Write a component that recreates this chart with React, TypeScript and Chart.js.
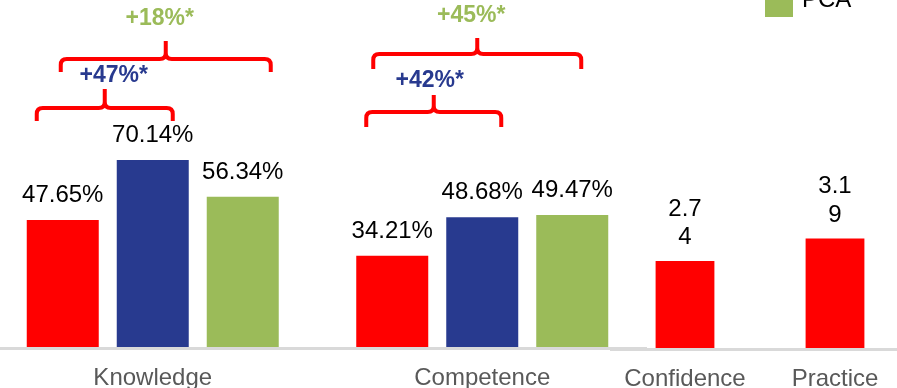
import React, { useEffect, useRef } from "react";
import { Chart, registerables } from "chart.js";

Chart.register(...registerables);

const FONT = "'Liberation Sans', Arial, sans-serif";

// ---- data ----
const seriesNames = ["Baseline", "Post-training", "PCA"];
const seriesColors = ["#FF0000", "#283A8F", "#9BBB59"];

const pctCategories = ["Knowledge", "Competence"];
const baselinePct = [47.65, 34.21];
const postPct = [70.14, 48.68];
const pcaPct = [56.34, 49.47];

const scoreCategories = ["Confidence", "Practice"];
const baselineScore = [2.74, 3.19];

const pctRange = [0, 75];
const scoreRange = [1, 5];

// comparisons drawn as brackets: category index, from-series, to-series
const comparisons = [
  { category: 0, from: 0, to: 1 },
  { category: 0, from: 0, to: 2 },
  { category: 1, from: 0, to: 1 },
  { category: 1, from: 0, to: 2 },
];

// annotation styling (positions of the hand-drawn brackets)
const bracketStyle = [
  { dx1: -26, dx2: 20, lineY: 108, drop: 13, rise: 19, textDx: 9, textY: 82 },
  { dx1: -2, dx2: 28, lineY: 59, drop: 13, rise: 18, textDx: -6, textY: 25 },
  { dx1: -26, dx2: 19, lineY: 112, drop: 15, rise: 17, textDx: -4, textY: 87 },
  { dx1: -19, dx2: 9, lineY: 54, drop: 15, rise: 16, textDx: -6, textY: 22 },
];

const pctSeries = [baselinePct, postPct, pcaPct];

function axisLinePlugin() {
  return {
    id: "axisLine",
    beforeDatasetsDraw(chart: any) {
      const { ctx, chartArea } = chart;
      ctx.save();
      ctx.fillStyle = "#D9D9D9";
      ctx.fillRect(chartArea.left, chartArea.bottom, chartArea.right - chartArea.left, 3);
      ctx.restore();
    },
  };
}

function valueLabelPlugin(format: (v: number) => string[], gap: number, lineH: number) {
  return {
    id: "valueLabels",
    afterDatasetsDraw(chart: any) {
      const ctx = chart.ctx;
      ctx.save();
      ctx.font = `24px ${FONT}`;
      ctx.fillStyle = "#000000";
      ctx.textAlign = "center";
      ctx.textBaseline = "alphabetic";
      chart.data.datasets.forEach((ds: any, i: number) => {
        const meta = chart.getDatasetMeta(i);
        meta.data.forEach((el: any, j: number) => {
          const lines = format(ds.data[j] as number);
          lines.forEach((line, k) => {
            ctx.fillText(line, el.x, el.y - gap - (lines.length - 1 - k) * lineH);
          });
        });
      });
      ctx.restore();
    },
  };
}

function bracketPlugin() {
  return {
    id: "brackets",
    afterDraw(chart: any) {
      const ctx = chart.ctx;
      ctx.save();
      comparisons.forEach((c, idx) => {
        const st = bracketStyle[idx];
        const a = chart.getDatasetMeta(c.from).data[c.category] as any;
        const b = chart.getDatasetMeta(c.to).data[c.category] as any;
        const x1 = a.x + st.dx1;
        const x2 = b.x + st.dx2;
        const xm = (x1 + x2) / 2;
        const y = st.lineY;
        const r = 6;
        ctx.strokeStyle = "#FF0000";
        ctx.lineWidth = 4;
        ctx.lineJoin = "round";
        ctx.lineCap = "butt";
        ctx.beginPath();
        ctx.moveTo(x1, y + st.drop);
        ctx.lineTo(x1, y + r);
        ctx.quadraticCurveTo(x1, y, x1 + r, y);
        ctx.lineTo(xm - r, y);
        ctx.quadraticCurveTo(xm, y, xm, y - r);
        ctx.lineTo(xm, y - st.rise);
        ctx.moveTo(xm, y - r);
        ctx.quadraticCurveTo(xm, y, xm + r, y);
        ctx.lineTo(x2 - r, y);
        ctx.quadraticCurveTo(x2, y, x2, y + r);
        ctx.lineTo(x2, y + st.drop);
        ctx.stroke();

        const fromV = pctSeries[c.from][c.category];
        const toV = pctSeries[c.to][c.category];
        const pct = Math.round(((toV - fromV) / fromV) * 100);
        ctx.font = `bold 23px ${FONT}`;
        ctx.fillStyle = seriesColors[c.to];
        ctx.textAlign = "center";
        ctx.textBaseline = "alphabetic";
        ctx.fillText(`+${pct}%*`, xm + st.textDx, st.textY);
      });
      ctx.restore();
    },
  };
}

function legendPlugin(offsetX: number) {
  return {
    id: "sideLegend",
    afterDraw(chart: any) {
      const ctx = chart.ctx;
      ctx.save();
      const rowH = 32;
      const top = -11 - (seriesNames.length - 1) * rowH;
      seriesNames.forEach((name, i) => {
        const y = top + i * rowH;
        ctx.fillStyle = seriesColors[i];
        ctx.fillRect(765 - offsetX, y, 28, 28);
        ctx.fillStyle = "#000000";
        ctx.font = `24px ${FONT}`;
        ctx.textAlign = "left";
        ctx.textBaseline = "alphabetic";
        ctx.fillText(name, 802 - offsetX, y + 18);
      });
      ctx.restore();
    },
  };
}

const LEFT_X = -12;
const LEFT_W = 659;
const RIGHT_X = 610;
const RIGHT_W = 300;
const H = 388;

export default function App() {
  const leftRef = useRef<HTMLCanvasElement>(null);
  const rightRef = useRef<HTMLCanvasElement>(null);

  useEffect(() => {
    Chart.defaults.font.family = FONT;
    const tickOpts = { color: "#595959", font: { size: 24 }, padding: 13, autoSkip: false, maxRotation: 0 };
    const gridOpts = { display: false, drawTicks: true, tickLength: 4 };

    const left = new Chart(leftRef.current!, {
      type: "bar",
      data: {
        labels: pctCategories,
        datasets: pctSeries.map((d, i) => ({
          label: seriesNames[i],
          data: d,
          backgroundColor: seriesColors[i],
          categoryPercentage: 0.8194,
          barPercentage: 0.8,
        })),
      },
      options: {
        responsive: false,
        animation: false,
        layout: { padding: { top: 147, left: 0, right: 0, bottom: 0 } },
        plugins: { legend: { display: false }, tooltip: { enabled: false } },
        scales: {
          x: {
            grid: gridOpts,
            border: { display: false },
            ticks: tickOpts,
            afterFit: (s: any) => { s.height = 41; },
          },
          y: { display: false, min: pctRange[0], max: pctRange[1] },
        },
      },
      plugins: [
        axisLinePlugin(),
        valueLabelPlugin((v) => [`${v.toFixed(2)}%`], 18, 28),
        bracketPlugin(),
      ],
    } as any);

    const right = new Chart(rightRef.current!, {
      type: "bar",
      data: {
        labels: scoreCategories,
        datasets: [
          {
            label: seriesNames[0],
            data: baselineScore,
            backgroundColor: seriesColors[0],
            categoryPercentage: 0.49,
            barPercentage: 0.8,
          },
        ],
      },
      options: {
        responsive: false,
        animation: false,
        layout: { padding: { top: 148, left: 0, right: 0, bottom: 0 } },
        plugins: { legend: { display: false }, tooltip: { enabled: false } },
        scales: {
          x: {
            grid: gridOpts,
            border: { display: false },
            ticks: tickOpts,
            afterFit: (s: any) => { s.height = 40; },
          },
          y: { display: false, min: scoreRange[0], max: scoreRange[1] },
        },
      },
      plugins: [
        axisLinePlugin(),
        valueLabelPlugin((v) => {
          const s = v.toFixed(2);
          return [s.slice(0, 3), s.slice(3)];
        }, 17, 28.5),
        legendPlugin(RIGHT_X),
      ],
    } as any);

    return () => {
      left.destroy();
      right.destroy();
    };
  }, []);

  return (
    <div
      style={{
        position: "fixed",
        left: 0,
        top: 0,
        width: 897,
        height: H,
        overflow: "hidden",
        background: "#FFFFFF",
      }}
    >
      <canvas
        ref={leftRef}
        width={LEFT_W}
        height={H}
        style={{ position: "absolute", left: LEFT_X, top: 0, width: LEFT_W, height: H }}
      />
      <canvas
        ref={rightRef}
        width={RIGHT_W}
        height={H}
        style={{ position: "absolute", left: RIGHT_X, top: 0, width: RIGHT_W, height: H }}
      />
    </div>
  );
}
